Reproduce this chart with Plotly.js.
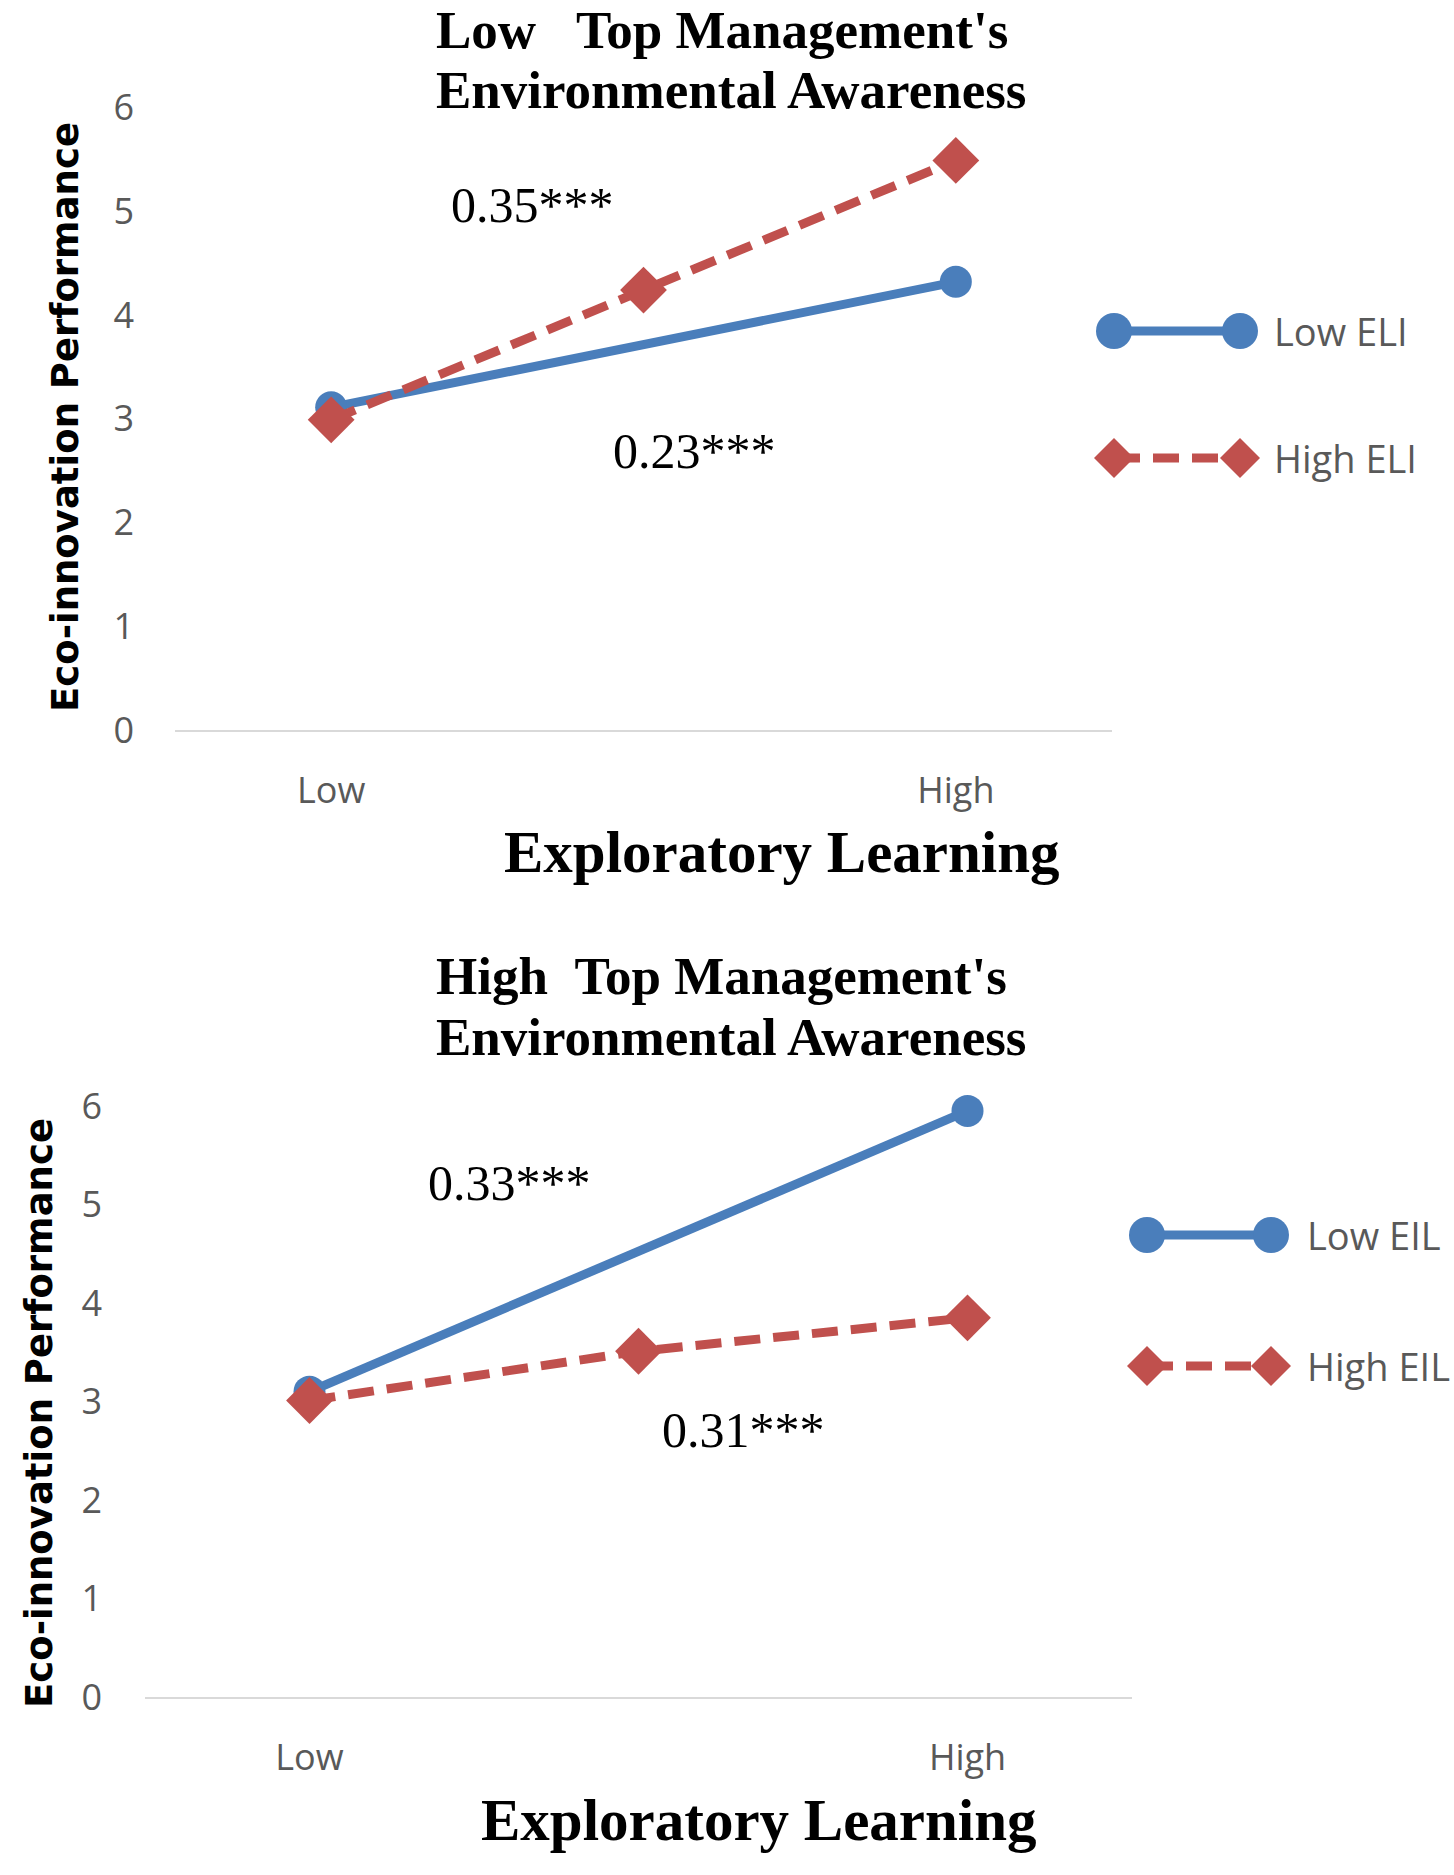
<!DOCTYPE html>
<html>
<head>
<meta charset="utf-8">
<script src="https://cdn.plot.ly/plotly-3.0.1.min.js"></script>
<style>
  html, body { margin: 0; padding: 0; background: #fff; }
  #chart { width: 1454px; height: 1875px; }
</style>
</head>
<body>
<div id="chart"></div>
<script>
// Simple slope plots: exploratory learning x ELI, split by top management awareness

const categories = ['Low', 'Mid', 'High'];
const tickLabels = ['Low', 'High'];

// top panel: low top management's environmental awareness
const lowAwareLowELI = [3.11, null, 4.32];
const lowAwareHighELI = [2.99, 4.24, 5.49];

// bottom panel: high top management's environmental awareness
const highAwareLowEIL = [3.10, null, 5.95];
const highAwareHighEIL = [3.01, 3.51, 3.85];

const W = 1454, H = 1875;
const BLUE = '#4A7EBB';
const RED = '#C0504D';
const px = x => x / W;
const py = y => 1 - y / H;

const tickFont = { family: 'Open Sans', size: 36, color: '#595959' };
const legendFont = { family: 'Open Sans', size: 38, color: '#595959' };
const serifBold = { family: 'Liberation Serif', size: 53, color: '#000', weight: 'bold' };
const axisTitleFont = { family: 'Liberation Serif', size: 59, color: '#000', weight: 'bold' };
const yTitleFont = { family: 'DejaVu Sans', size: 37, color: '#000', weight: 'bold' };
const slopeFont = { family: 'Liberation Serif', size: 50, color: '#000' };

function lineTrace(y, name, color, dashed, xa, ya) {
    return {
        x: categories,
        y: y,
        name: name,
        xaxis: xa,
        yaxis: ya,
        type: 'scatter',
        mode: 'lines+markers',
        connectgaps: true,
        cliponaxis: false,
        showlegend: false,
        line: { color: color, width: 9, dash: dashed ? '26px,13px' : 'solid' },
        marker: {
            color: color,
            symbol: dashed ? 'diamond' : 'circle',
            size: dashed ? 36 : 32
        }
    };
}

const traces = [
    lineTrace(lowAwareLowELI, 'Low ELI', BLUE, false, 'x', 'y'),
    lineTrace(lowAwareHighELI, 'High ELI', RED, true, 'x', 'y'),
    lineTrace(highAwareLowEIL, 'Low EIL', BLUE, false, 'x2', 'y2'),
    lineTrace(highAwareHighEIL, 'High EIL', RED, true, 'x2', 'y2')
];

function xAxis(left, right, anchor) {
    return {
        domain: [px(left), px(right)],
        anchor: anchor,
        type: 'category',
        categoryorder: 'array',
        categoryarray: categories,
        range: [-0.5, 2.5],
        tickmode: 'array',
        tickvals: ['Low', 'High'],
        ticktext: tickLabels,
        ticks: '',
        ticklabelstandoff: 28,
        tickfont: tickFont,
        showgrid: false,
        zeroline: false,
        showline: true,
        linecolor: '#D9D9D9',
        linewidth: 2,
        fixedrange: true
    };
}

function yAxis(bottom, top, anchor, standoff) {
    return {
        domain: [py(bottom), py(top)],
        anchor: anchor,
        range: [0, 6],
        dtick: 1,
        ticks: '',
        ticklabelstandoff: standoff,
        tickfont: tickFont,
        showgrid: false,
        zeroline: false,
        showline: false,
        fixedrange: true
    };
}

function text(x, y, t, font, opts) {
    return Object.assign({
        xref: 'paper', yref: 'paper',
        x: px(x), y: py(y),
        text: t, showarrow: false,
        font: font,
        borderpad: 0,
        xanchor: 'center', yanchor: 'middle'
    }, opts || {});
}

const annotations = [
    // top panel
    text(435, 0, 'Low\u00a0\u00a0\u00a0Top Management\'s', serifBold, { xanchor: 'left', yanchor: 'top' }),
    text(435, 90, 'Environmental Awareness', serifBold, { xanchor: 'left' }),
    text(782, 852, 'Exploratory Learning', axisTitleFont),
    text(66, 417, 'Eco-innovation Performance', yTitleFont, { textangle: -90 }),
    text(532, 205, '0.35***', slopeFont),
    text(694, 451, '0.23***', slopeFont),
    text(1273, 331, 'Low ELI', legendFont, { xanchor: 'left' }),
    text(1273, 458, 'High ELI', legendFont, { xanchor: 'left' }),

    // bottom panel
    text(435, 976, 'High\u00a0\u00a0Top Management\'s', serifBold, { xanchor: 'left' }),
    text(435, 1037, 'Environmental Awareness', serifBold, { xanchor: 'left' }),
    text(759, 1820, 'Exploratory Learning', axisTitleFont),
    text(39, 1413, 'Eco-innovation Performance', yTitleFont, { textangle: -90 }),
    text(509, 1183, '0.33***', slopeFont),
    text(743, 1430, '0.31***', slopeFont),
    text(1306, 1235, 'Low EIL', legendFont, { xanchor: 'left' }),
    text(1306, 1366, 'High EIL', legendFont, { xanchor: 'left' })
];

// legend samples drawn as shapes (line with a marker at each end)
function legendSample(x1, x2, y, color, dashed) {
    const out = [{
        type: 'line', xref: 'paper', yref: 'paper',
        x0: px(x1), x1: px(x2), y0: py(y), y1: py(y),
        line: { color: color, width: 9, dash: dashed ? '26px,13px' : 'solid' }
    }];
    [x1, x2].forEach(cx => {
        if (dashed) {
            const r = 20;
            out.push({
                type: 'path', xref: 'paper', yref: 'paper',
                path: `M ${px(cx - r)} ${py(y)} L ${px(cx)} ${py(y - r)} L ${px(cx + r)} ${py(y)} L ${px(cx)} ${py(y + r)} Z`,
                fillcolor: color, line: { width: 0 }
            });
        } else {
            const r = 18;
            out.push({
                type: 'circle', xref: 'paper', yref: 'paper',
                x0: px(cx - r), x1: px(cx + r), y0: py(y + r), y1: py(y - r),
                fillcolor: color, line: { width: 0 }
            });
        }
    });
    return out;
}

const shapes = [].concat(
    legendSample(1114, 1240, 331, BLUE, false),
    legendSample(1114, 1240, 458, RED, true),
    legendSample(1147, 1271, 1235, BLUE, false),
    legendSample(1147, 1271, 1366, RED, true)
);

const layout = {
    width: W,
    height: H,
    margin: { l: 0, r: 0, t: 0, b: 0 },
    paper_bgcolor: '#fff',
    plot_bgcolor: '#fff',
    showlegend: false,
    xaxis: xAxis(175, 1112, 'y'),
    yaxis: yAxis(730, 107.5, 'x', 40),
    xaxis2: xAxis(145, 1132, 'y2'),
    yaxis2: yAxis(1697, 1106, 'x2', 42),
    annotations: annotations,
    shapes: shapes
};

Plotly.newPlot('chart', traces, layout, { displayModeBar: false, staticPlot: true });
</script>
</body>
</html>
